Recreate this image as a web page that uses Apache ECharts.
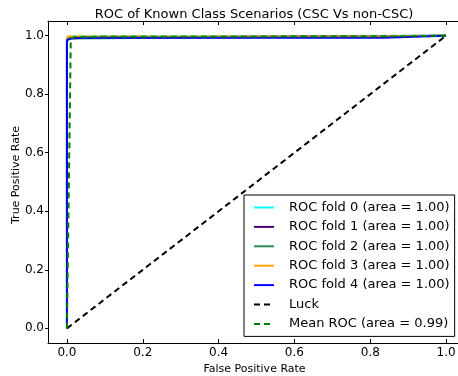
<!DOCTYPE html>
<html>
<head>
<meta charset="utf-8">
<script src="https://cdn.jsdelivr.net/npm/echarts@6/dist/echarts.min.js"></script>
<style>
  html, body { margin: 0; padding: 0; background: #fff; }
  #chart { width: 458px; height: 376px; }
</style>
</head>
<body>
<div id="chart"></div>
<script>
// ROC curves per cross-validation fold, as [false positive rate, true positive rate]
const fold0 = [[0, 0], [0, 0.985], [0.002, 0.992], [0.008, 0.997], [0.05, 0.998], [1, 1]];
const fold1 = [[0, 0], [0, 0.98], [0.004, 0.99], [0.02, 0.994], [0.056, 0.994], [0.06, 0.997], [1, 1]];
const fold2 = [[0, 0], [0, 0.99], [0.005, 0.996], [1, 1]];
const fold3 = [[0, 0], [0, 0.99], [0.003, 0.997], [0.833, 0.997], [0.833, 1], [1, 1]];
const fold4 = [[0, 0], [0, 0.985], [0.01, 0.99], [0.04, 0.993], [0.833, 0.993], [0.833, 0.998], [1, 1]];
const luck = [[0, 0], [1, 1]];
const meanRoc = [[0, 0], [0.0101, 0.99], [0.0202, 0.995], [0.1, 0.996], [0.833, 0.997], [1, 1]];

const foldNames = [
  'ROC fold 0 (area = 1.00)',
  'ROC fold 1 (area = 1.00)',
  'ROC fold 2 (area = 1.00)',
  'ROC fold 3 (area = 1.00)',
  'ROC fold 4 (area = 1.00)'
];
const luckName = 'Luck';
const meanName = 'Mean ROC (area = 0.99)';
const tickValues = [0, 0.2, 0.4, 0.6, 0.8, 1.0];

const FONT = 'DejaVu Sans';
const foldColors = ['#00ffff', '#4b0082', '#2e8b57', '#ffa500', '#0000ff'];
const foldData = [fold0, fold1, fold2, fold3, fold4];

const series = foldData.map((d, i) => ({
  name: foldNames[i],
  type: 'line',
  data: d,
  symbol: 'none',
  animation: false,
  lineStyle: { color: foldColors[i], width: 2 },
  itemStyle: { color: foldColors[i] }
}));
series.push({
  name: luckName, type: 'line', data: luck, symbol: 'none', animation: false,
  lineStyle: { color: '#000', width: 2, type: [6, 4] }, itemStyle: { color: '#000' }
});
series.push({
  name: meanName, type: 'line', data: meanRoc, symbol: 'none', animation: false,
  lineStyle: { color: '#008000', width: 2, type: [6, 4] }, itemStyle: { color: '#008000' }
});

const fmt = v => v.toFixed(1);
const chart = echarts.init(document.getElementById('chart'), null, { renderer: 'canvas' });
chart.setOption({
  backgroundColor: '#fff',
  title: {
    text: 'ROC of Known Class Scenarios (CSC Vs non-CSC)',
    left: 249, top: 3, textAlign: 'center',
    textStyle: { fontFamily: FONT, fontSize: 13, fontWeight: 'normal', color: '#000' }
  },
  grid: { left: 48, top: 21, width: 417, height: 322, containLabel: false, outerBoundsMode: 'none' },
  xAxis: [{
    type: 'value', min: -0.05, max: 1.05, position: 'bottom',
    name: 'False Positive Rate', nameLocation: 'middle', nameGap: 19,
    nameTextStyle: { fontFamily: FONT, fontSize: 11, color: '#000', padding: [0, 4, 0, 0] },
    axisLine: { show: true, onZero: false, lineStyle: { color: '#000', width: 1 } },
    axisTick: { show: true, inside: true, length: 4, customValues: tickValues, lineStyle: { color: '#000' } },
    axisLabel: { customValues: tickValues, formatter: fmt, fontFamily: FONT, fontSize: 12, color: '#000', margin: 4 },
    splitLine: { show: false }
  }, {
    type: 'value', min: -0.05, max: 1.05, position: 'top',
    axisLine: { show: true, onZero: false, lineStyle: { color: '#000', width: 1 } },
    axisTick: { show: true, inside: true, length: 4, customValues: tickValues, lineStyle: { color: '#000' } },
    axisLabel: { show: false },
    splitLine: { show: false }
  }],
  yAxis: [{
    type: 'value', min: -0.05, max: 1.05, position: 'left',
    name: 'True Positive Rate', nameLocation: 'middle', nameGap: 26, nameMoveOverlap: false,
    nameTextStyle: { fontFamily: FONT, fontSize: 11, color: '#000', padding: [0, 0, 0, 14] },
    axisLine: { show: true, onZero: false, lineStyle: { color: '#000', width: 1 } },
    axisTick: { show: true, inside: false, length: 3, customValues: tickValues, lineStyle: { color: '#000' } },
    axisLabel: { customValues: tickValues, formatter: fmt, fontFamily: FONT, fontSize: 12, color: '#000', margin: 4 },
    splitLine: { show: false }
  }],
  legend: {
    orient: 'vertical', left: 244, top: 195,
    backgroundColor: '#fff', borderColor: '#000', borderWidth: 1, borderRadius: 0,
    padding: [6, 5, 6, 9],
    itemWidth: 20, itemHeight: 14, itemGap: 6.4,
    itemStyle: { opacity: 0 },
    textStyle: { fontFamily: FONT, fontSize: 13, color: '#000', padding: [0, 0, 0, 10] },
    data: foldNames.concat([luckName, meanName])
  },
  series: series
});
</script>
</body>
</html>
